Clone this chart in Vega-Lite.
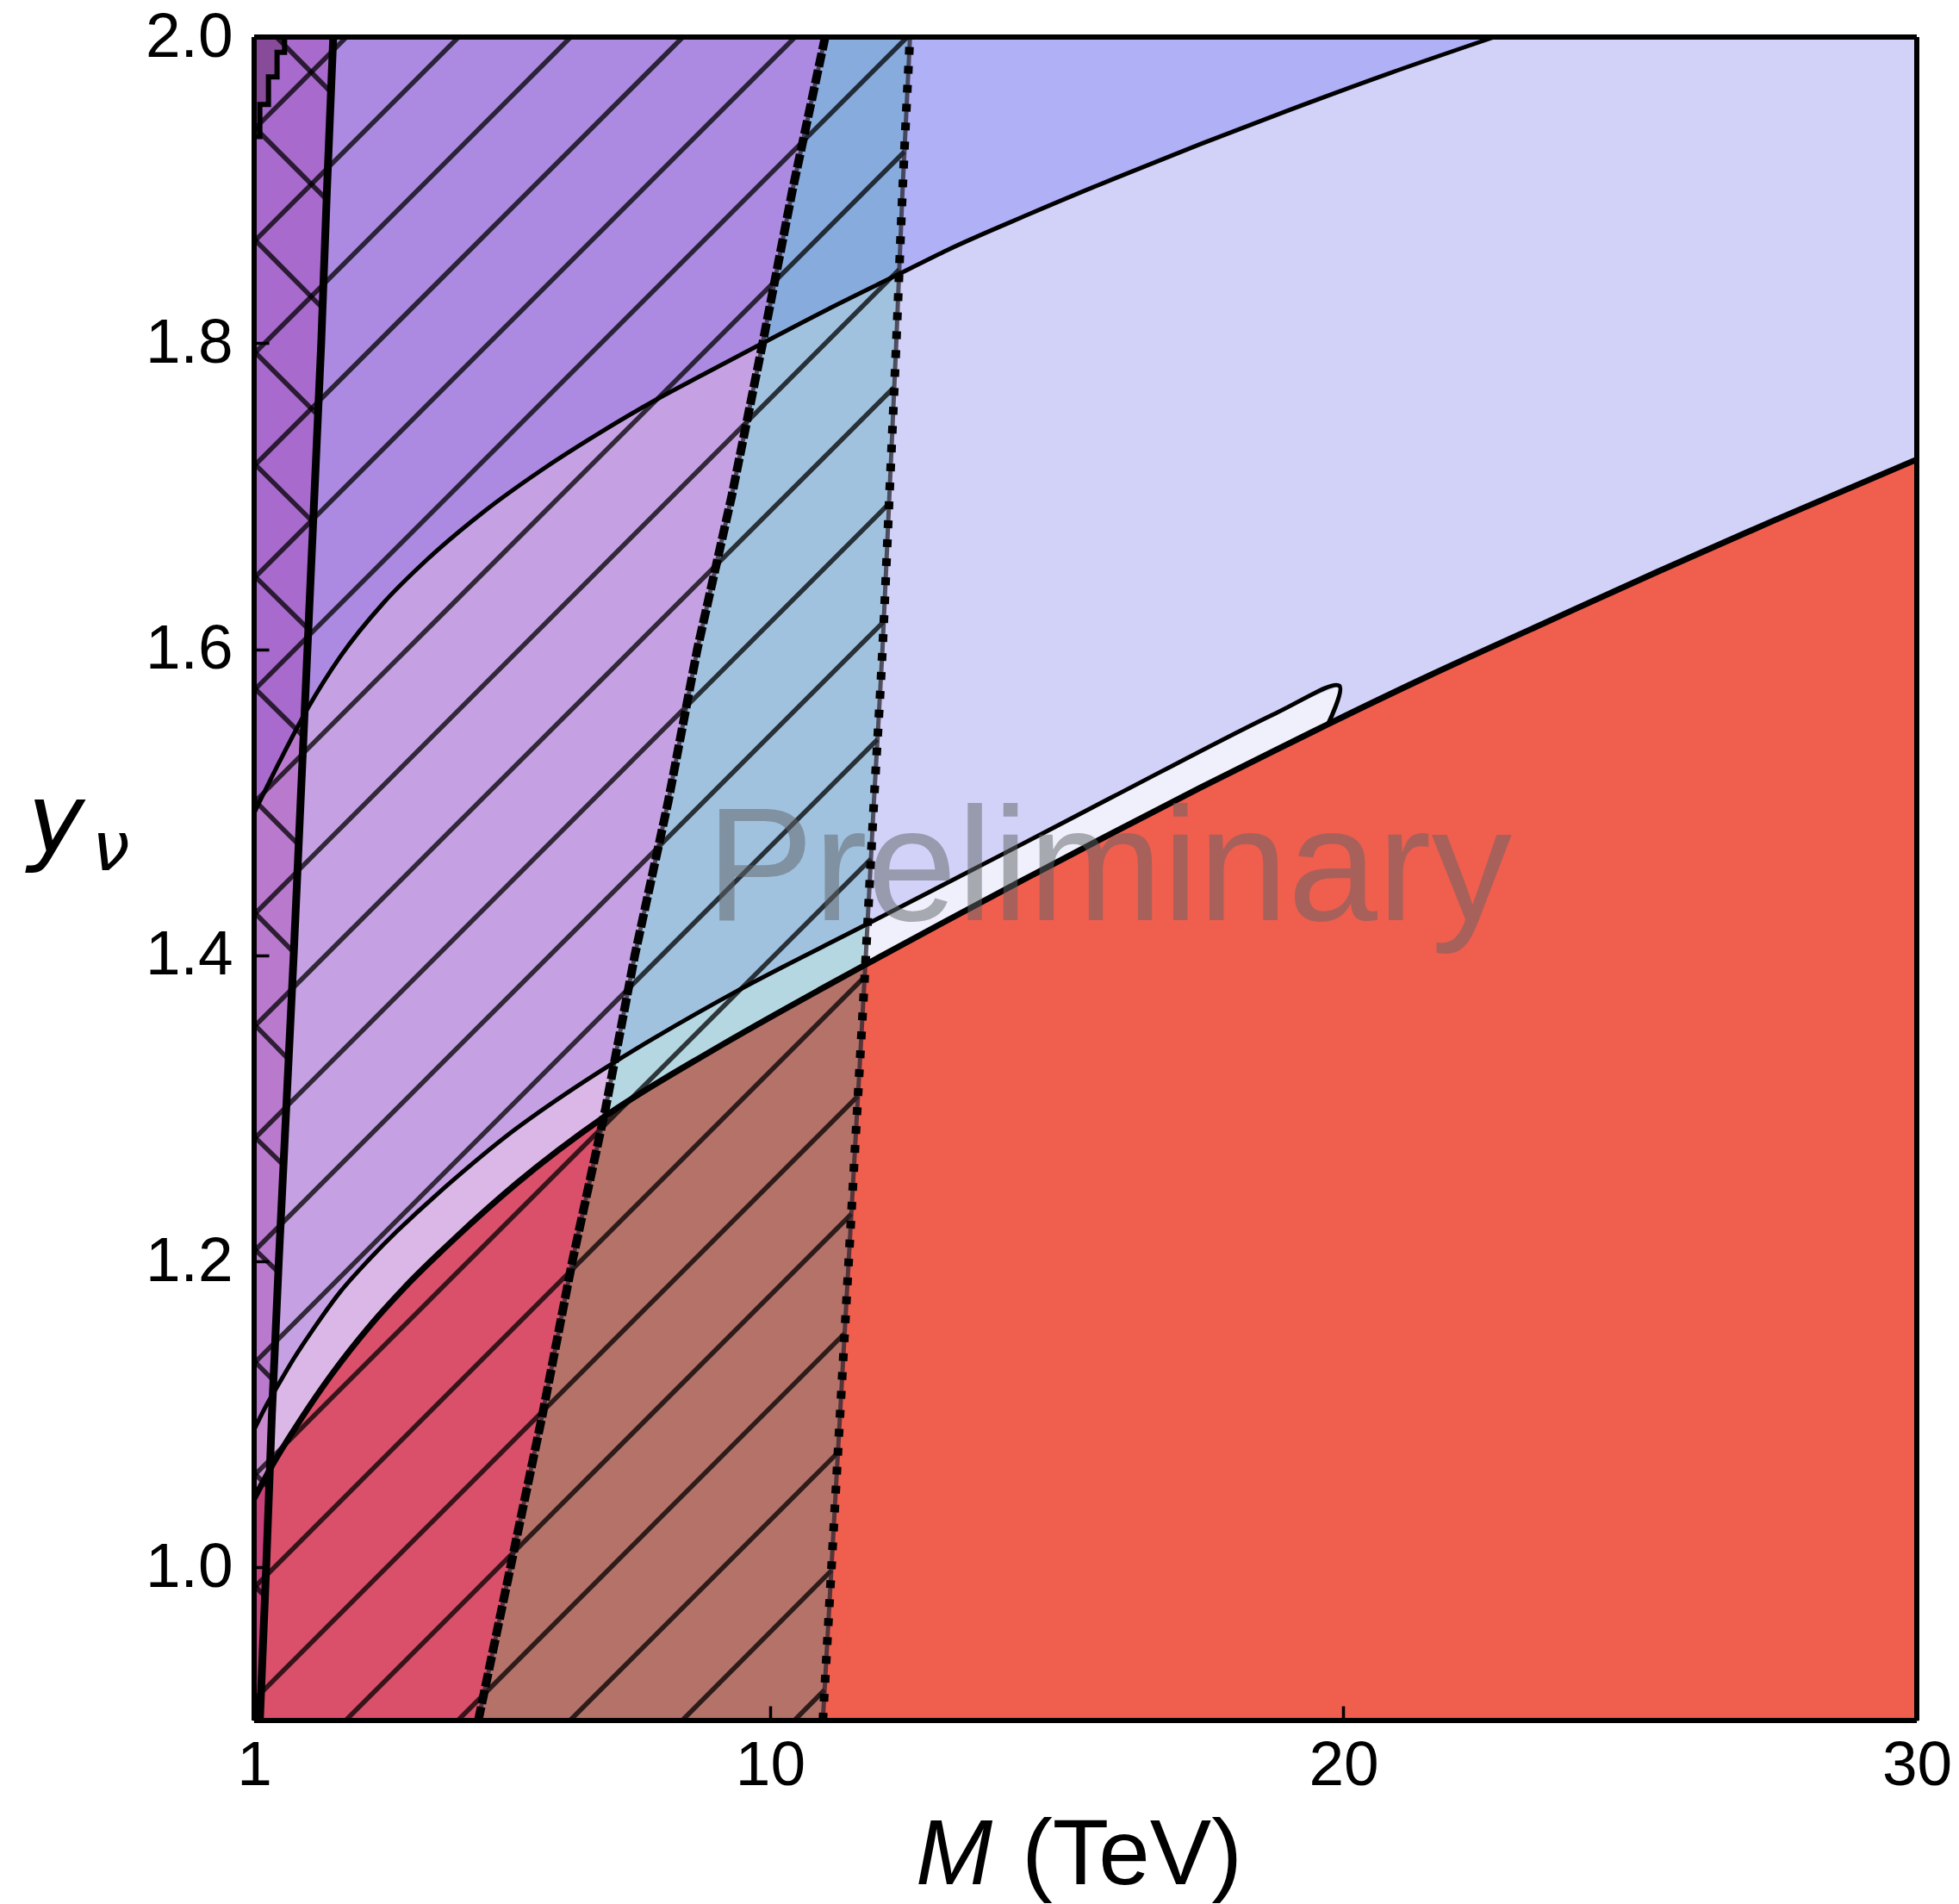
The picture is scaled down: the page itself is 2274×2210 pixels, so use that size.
{
  "$schema": "https://vega.github.io/schema/vega-lite/v6.json",
  "width": 1930,
  "height": 1954,
  "autosize": "none",
  "padding": {"left": 295, "top": 43, "right": 49, "bottom": 213},
  "background": "white",
  "config": {"view": {"fill": "#D2D1F8", "stroke": null}, "font": "Liberation Sans"},
  "datasets": {
    "c2": [
      {"x": 1.0, "y": 1.493}, {"x": 1.45, "y": 1.527}, {"x": 1.93, "y": 1.561}, {"x": 2.5, "y": 1.595},
      {"x": 3.25, "y": 1.63}, {"x": 4.0, "y": 1.658}, {"x": 5.01, "y": 1.69}, {"x": 6.01, "y": 1.717},
      {"x": 7.01, "y": 1.741}, {"x": 8.01, "y": 1.763}, {"x": 8.81, "y": 1.779}, {"x": 9.87, "y": 1.8},
      {"x": 11.0, "y": 1.822}, {"x": 12.24, "y": 1.845}, {"x": 13.1, "y": 1.861}, {"x": 14.5, "y": 1.884},
      {"x": 16.0, "y": 1.9075}, {"x": 17.5, "y": 1.93}, {"x": 19.0, "y": 1.9515}, {"x": 20.8, "y": 1.9763},
      {"x": 22.63, "y": 2.0}
    ],
    "c1": [
      {"x": 1.0, "y": 1.09}, {"x": 1.2, "y": 1.105}, {"x": 1.4, "y": 1.118}, {"x": 1.7, "y": 1.137},
      {"x": 2.0, "y": 1.154}, {"x": 2.5, "y": 1.18}, {"x": 3.0, "y": 1.201}, {"x": 3.5, "y": 1.22},
      {"x": 4.5, "y": 1.254}, {"x": 5.58, "y": 1.287}, {"x": 7.28, "y": 1.33}, {"x": 9.44, "y": 1.377},
      {"x": 11.62, "y": 1.419}, {"x": 14.0, "y": 1.465}, {"x": 16.0, "y": 1.504}, {"x": 18.81, "y": 1.558},
      {"x": 19.93, "y": 1.576}, {"x": 19.73, "y": 1.551}
    ],
    "sliver": [
      {"x": 1.0, "lo": 1.045, "hi": 1.09}, {"x": 1.2, "lo": 1.059, "hi": 1.105}, {"x": 1.4, "lo": 1.072, "hi": 1.118},
      {"x": 1.7, "lo": 1.09, "hi": 1.137}, {"x": 2.0, "lo": 1.107, "hi": 1.154}, {"x": 2.5, "lo": 1.133, "hi": 1.18},
      {"x": 3.0, "lo": 1.157, "hi": 1.201}, {"x": 3.5, "lo": 1.178, "hi": 1.22}, {"x": 4.5, "lo": 1.215, "hi": 1.254},
      {"x": 5.58, "lo": 1.251, "hi": 1.287}, {"x": 7.28, "lo": 1.299, "hi": 1.33}, {"x": 9.44, "lo": 1.347, "hi": 1.377},
      {"x": 11.62, "lo": 1.393, "hi": 1.419}, {"x": 14.0, "lo": 1.441, "hi": 1.465}, {"x": 16.0, "lo": 1.4805, "hi": 1.504},
      {"x": 18.81, "lo": 1.534, "hi": 1.558}, {"x": 19.73, "lo": 1.551, "hi": 1.573}, {"x": 19.93, "lo": 1.576, "hi": 1.576}
    ],
    "red": [
      {"x": 1.0, "y": 1.045}, {"x": 1.35, "y": 1.069}, {"x": 1.8, "y": 1.096}, {"x": 2.35, "y": 1.126},
      {"x": 3.0, "y": 1.157}, {"x": 3.6, "y": 1.182}, {"x": 4.5, "y": 1.215}, {"x": 5.58, "y": 1.251},
      {"x": 7.09, "y": 1.294}, {"x": 9.0, "y": 1.338}, {"x": 10.89, "y": 1.378}, {"x": 11.62, "y": 1.393},
      {"x": 13.0, "y": 1.421}, {"x": 14.5, "y": 1.451}, {"x": 16.0, "y": 1.4805}, {"x": 17.5, "y": 1.5094},
      {"x": 18.81, "y": 1.534}, {"x": 19.73, "y": 1.551}, {"x": 21.51, "y": 1.583}, {"x": 23.5, "y": 1.617},
      {"x": 25.5, "y": 1.651}, {"x": 27.5, "y": 1.684}, {"x": 30.0, "y": 1.724}
    ],
    "vl": [
      {"y": 0.9, "dash": 4.91, "dot": 10.92, "thick": 1.1},
      {"y": 1.0, "dash": 5.47, "dot": 11.07, "thick": 1.21},
      {"y": 1.1, "dash": 6.03, "dot": 11.22, "thick": 1.31},
      {"y": 1.2, "dash": 6.55, "dot": 11.37, "thick": 1.43},
      {"y": 1.3, "dash": 7.13, "dot": 11.52, "thick": 1.56},
      {"y": 1.4, "dash": 7.64, "dot": 11.67, "thick": 1.69},
      {"y": 1.5, "dash": 8.22, "dot": 11.81, "thick": 1.81},
      {"y": 1.6, "dash": 8.73, "dot": 11.96, "thick": 1.93},
      {"y": 1.7, "dash": 9.33, "dot": 12.08, "thick": 2.05},
      {"y": 1.8, "dash": 9.87, "dot": 12.2, "thick": 2.17},
      {"y": 1.9, "dash": 10.39, "dot": 12.31, "thick": 2.27},
      {"y": 2.0, "dash": 10.96, "dot": 12.44, "thick": 2.38}
    ],
    "corner": [
      {"x": 1.0, "y": 1.935}, {"x": 1.1, "y": 1.956}, {"x": 1.25, "y": 1.974},
      {"x": 1.4, "y": 1.99}, {"x": 1.53, "y": 1.99}, {"x": 1.531, "y": 2.0}
    ],
    "hatch": [
      {"xa": 1, "ya": 1.9397, "xb": 2.61, "yb": 2.0},
      {"xa": 1, "ya": 1.8664, "xb": 4.566, "yb": 2.0},
      {"xa": 1, "ya": 1.7931, "xb": 6.523, "yb": 2.0},
      {"xa": 1, "ya": 1.7198, "xb": 8.479, "yb": 2.0},
      {"xa": 1, "ya": 1.6465, "xb": 10.436, "yb": 2.0},
      {"xa": 1, "ya": 1.5732, "xb": 12.392, "yb": 2.0},
      {"xa": 1, "ya": 1.4999, "xb": 12.34, "yb": 1.925},
      {"xa": 1, "ya": 1.4266, "xb": 12.25, "yb": 1.848},
      {"xa": 1, "ya": 1.3533, "xb": 12.16, "yb": 1.771},
      {"xa": 1, "ya": 1.28, "xb": 12.07, "yb": 1.695},
      {"xa": 1, "ya": 1.2067, "xb": 11.98, "yb": 1.618},
      {"xa": 1, "ya": 1.1334, "xb": 11.87, "yb": 1.541},
      {"xa": 1, "ya": 1.0601, "xb": 11.76, "yb": 1.463},
      {"xa": 1, "ya": 0.9868, "xb": 11.65, "yb": 1.386},
      {"xa": 1, "ya": 0.9135, "xb": 11.53, "yb": 1.308},
      {"xa": 2.595, "ya": 0.9, "xb": 11.42, "yb": 1.231},
      {"xa": 4.552, "ya": 0.9, "xb": 11.3, "yb": 1.153},
      {"xa": 6.508, "ya": 0.9, "xb": 11.18, "yb": 1.075},
      {"xa": 8.465, "ya": 0.9, "xb": 11.07, "yb": 0.998},
      {"xa": 10.421, "ya": 0.9, "xb": 10.95, "yb": 0.92},
      {"xa": 1.39, "ya": 2.0, "xb": 2.34, "yb": 1.964},
      {"xa": 1, "ya": 1.9413, "xb": 2.26, "yb": 1.894},
      {"xa": 1, "ya": 1.868, "xb": 2.19, "yb": 1.823},
      {"xa": 1, "ya": 1.7947, "xb": 2.11, "yb": 1.753},
      {"xa": 1, "ya": 1.7214, "xb": 2.03, "yb": 1.683},
      {"xa": 1, "ya": 1.6481, "xb": 1.95, "yb": 1.613},
      {"xa": 1, "ya": 1.5748, "xb": 1.86, "yb": 1.543},
      {"xa": 1, "ya": 1.5015, "xb": 1.78, "yb": 1.472},
      {"xa": 1, "ya": 1.4282, "xb": 1.69, "yb": 1.402},
      {"xa": 1, "ya": 1.3549, "xb": 1.6, "yb": 1.332},
      {"xa": 1, "ya": 1.2816, "xb": 1.51, "yb": 1.263},
      {"xa": 1, "ya": 1.2083, "xb": 1.42, "yb": 1.193},
      {"xa": 1, "ya": 1.135, "xb": 1.34, "yb": 1.122},
      {"xa": 1, "ya": 1.0617, "xb": 1.26, "yb": 1.052},
      {"xa": 1, "ya": 0.9884, "xb": 1.19, "yb": 0.981},
      {"xa": 1, "ya": 0.9151, "xb": 1.11, "yb": 0.911}
    ]
  },
  "layer": [
    {
      "data": {"name": "c2"},
      "mark": {"type": "area", "color": "#AFB0F6", "interpolate": "monotone"},
      "encoding": {
        "x": {"field": "x", "type": "quantitative", "title": null, "scale": {"domain": [1, 30], "nice": false, "zero": false},
          "axis": {"values": [1, 10, 20, 30], "format": "d", "labelFlush": false, "labelOverlap": false, "labelBound": false,
            "domain": false, "grid": false, "ticks": true, "tickSize": -17, "tickWidth": 3.5, "tickColor": "black",
            "labelFontSize": 73, "labelFont": "Liberation Sans", "labelColor": "black", "labelPadding": 33, "title": null, "zindex": 1}},
        "y": {"field": "y", "type": "quantitative", "title": null, "stack": null, "scale": {"domain": [0.9, 2.0], "nice": false, "zero": false},
          "axis": {"values": [1.0, 1.2, 1.4, 1.6, 1.8, 2.0], "format": ".1f", "labelFlush": false, "labelOverlap": false, "labelBound": false,
            "domain": false, "grid": false, "ticks": true, "tickSize": -17, "tickWidth": 3.5, "tickColor": "black",
            "labelFontSize": 73, "labelFont": "Liberation Sans", "labelColor": "black", "labelPadding": 42, "title": null, "zindex": 1}},
        "y2": {"datum": 2.0}
      }
    },
    {
      "data": {"name": "sliver"},
      "mark": {"type": "area", "color": "#F0F0FC", "interpolate": "monotone"},
      "encoding": {
        "x": {"field": "x", "type": "quantitative", "title": null},
        "y": {"field": "lo", "type": "quantitative", "stack": null, "title": null},
        "y2": {"field": "hi"}
      }
    },
    {
      "data": {"name": "red"},
      "mark": {"type": "area", "color": "#F05E4E", "interpolate": "monotone"},
      "encoding": {
        "x": {"field": "x", "type": "quantitative", "title": null},
        "y": {"field": "y", "type": "quantitative", "stack": null, "title": null},
        "y2": {"datum": 0.9}
      }
    },
    {
      "data": {"name": "vl"},
      "mark": {"type": "area", "orient": "horizontal", "color": "#A42EB0", "fillOpacity": 0.29},
      "encoding": {
        "y": {"field": "y", "type": "quantitative", "title": null},
        "x": {"field": "dash", "type": "quantitative", "stack": null, "title": null},
        "x2": {"datum": 1}
      }
    },
    {
      "data": {"name": "vl"},
      "mark": {"type": "area", "orient": "horizontal", "color": "#33A1A8", "fillOpacity": 0.31},
      "encoding": {
        "y": {"field": "y", "type": "quantitative", "title": null},
        "x": {"field": "dash", "type": "quantitative", "stack": null, "title": null},
        "x2": {"field": "dot"}
      }
    },
    {
      "data": {"name": "vl"},
      "mark": {"type": "area", "orient": "horizontal", "color": "#9F229D", "fillOpacity": 0.3},
      "encoding": {
        "y": {"field": "y", "type": "quantitative", "title": null},
        "x": {"field": "thick", "type": "quantitative", "stack": null, "title": null},
        "x2": {"datum": 1}
      }
    },
    {
      "data": {"name": "corner"},
      "mark": {"type": "area", "color": "#7B3F85", "interpolate": "step-after", "line": {"color": "black", "strokeWidth": 6, "interpolate": "step-after"}},
      "encoding": {
        "x": {"field": "x", "type": "quantitative", "title": null},
        "y": {"field": "y", "type": "quantitative", "stack": null, "title": null},
        "y2": {"datum": 2.0}
      }
    },
    {
      "data": {"name": "hatch"},
      "mark": {"type": "rule", "color": "black", "opacity": 0.75, "strokeWidth": 5.5},
      "encoding": {
        "x": {"field": "xa", "type": "quantitative", "title": null},
        "y": {"field": "ya", "type": "quantitative", "title": null},
        "x2": {"field": "xb"},
        "y2": {"field": "yb"}
      }
    },
    {
      "data": {"name": "vl"},
      "mark": {"type": "line", "color": "#2b2430", "opacity": 0.75, "strokeWidth": 5, "interpolate": "monotone"},
      "encoding": {
        "x": {"field": "dot", "type": "quantitative", "title": null},
        "y": {"field": "y", "type": "quantitative", "title": null},
        "order": {"field": "y"}
      }
    },
    {
      "data": {"name": "vl"},
      "mark": {"type": "line", "color": "#2b2430", "opacity": 0.75, "strokeWidth": 5},
      "encoding": {
        "x": {"field": "dash", "type": "quantitative", "title": null},
        "y": {"field": "y", "type": "quantitative", "title": null},
        "order": {"field": "y"}
      }
    },
    {
      "data": {"name": "c2"},
      "mark": {"type": "line", "color": "black", "strokeWidth": 5, "interpolate": "monotone"},
      "encoding": {
        "x": {"field": "x", "type": "quantitative", "title": null},
        "y": {"field": "y", "type": "quantitative", "title": null}
      }
    },
    {
      "data": {"name": "c1"},
      "mark": {"type": "line", "color": "black", "strokeWidth": 5, "interpolate": "catmull-rom"},
      "encoding": {
        "x": {"field": "x", "type": "quantitative", "title": null},
        "y": {"field": "y", "type": "quantitative", "title": null},
        "order": {"value": null}
      }
    },
    {
      "data": {"name": "red"},
      "mark": {"type": "line", "color": "black", "strokeWidth": 7, "interpolate": "monotone"},
      "encoding": {
        "x": {"field": "x", "type": "quantitative", "title": null},
        "y": {"field": "y", "type": "quantitative", "title": null}
      }
    },
    {
      "data": {"name": "vl"},
      "mark": {"type": "line", "color": "black", "strokeWidth": 9},
      "encoding": {
        "x": {"field": "thick", "type": "quantitative", "title": null},
        "y": {"field": "y", "type": "quantitative", "title": null},
        "order": {"field": "y"}
      }
    },
    {
      "data": {"name": "vl"},
      "mark": {"type": "line", "color": "black", "strokeWidth": 10, "strokeDash": [16, 4]},
      "encoding": {
        "x": {"field": "dash", "type": "quantitative", "title": null},
        "y": {"field": "y", "type": "quantitative", "title": null},
        "order": {"field": "y"}
      }
    },
    {
      "data": {"name": "vl"},
      "mark": {"type": "line", "color": "black", "strokeWidth": 10, "strokeDash": [9, 13], "interpolate": "monotone"},
      "encoding": {
        "x": {"field": "dot", "type": "quantitative", "title": null},
        "y": {"field": "y", "type": "quantitative", "title": null},
        "order": {"field": "y"}
      }
    },
    {
      "data": {"values": [{"t": "Preliminary"}]},
      "mark": {"type": "text", "font": "Liberation Sans", "fontSize": 187, "color": "#606466", "opacity": 0.5, "align": "center", "baseline": "alphabetic"},
      "encoding": {
        "x": {"datum": 15.91, "type": "quantitative", "title": null},
        "y": {"datum": 1.423, "type": "quantitative", "title": null},
        "text": {"field": "t"}
      }
    },
    {
      "data": {"values": [{"f": 1}]},
      "mark": {"type": "rule", "color": "black", "strokeWidth": 6},
      "encoding": {"x": {"datum": 1, "type": "quantitative", "title": null}}
    },
    {
      "data": {"values": [{"f": 1}]},
      "mark": {"type": "rule", "color": "black", "strokeWidth": 6},
      "encoding": {"x": {"datum": 30, "type": "quantitative", "title": null}}
    },
    {
      "data": {"values": [{"f": 1}]},
      "mark": {"type": "rule", "color": "black", "strokeWidth": 6},
      "encoding": {"y": {"datum": 0.9, "type": "quantitative", "title": null}}
    },
    {
      "data": {"values": [{"f": 1}]},
      "mark": {"type": "rule", "color": "black", "strokeWidth": 6},
      "encoding": {"y": {"datum": 2.0, "type": "quantitative", "title": null}}
    },
    {
      "data": {"values": [{"t": "M"}]},
      "mark": {"type": "text", "font": "Liberation Sans", "fontSize": 107, "fontStyle": "italic", "color": "black", "align": "left", "baseline": "alphabetic"},
      "encoding": {
        "x": {"datum": 12.54, "type": "quantitative", "title": null},
        "y": {"datum": 0.793, "type": "quantitative", "title": null},
        "text": {"field": "t"}
      }
    },
    {
      "data": {"values": [{"t": "(TeV)"}]},
      "mark": {"type": "text", "font": "Liberation Sans", "fontSize": 107, "color": "black", "align": "left", "baseline": "alphabetic"},
      "encoding": {
        "x": {"datum": 14.39, "type": "quantitative", "title": null},
        "y": {"datum": 0.793, "type": "quantitative", "title": null},
        "text": {"field": "t"}
      }
    },
    {
      "data": {"values": [{"t": "y"}]},
      "mark": {"type": "text", "font": "DejaVu Sans", "fontSize": 112, "fontStyle": "italic", "color": "black", "align": "left", "baseline": "alphabetic"},
      "encoding": {
        "x": {"datum": -2.95, "type": "quantitative", "title": null},
        "y": {"datum": 1.467, "type": "quantitative", "title": null},
        "text": {"field": "t"}
      }
    },
    {
      "data": {"values": [{"t": "ν"}]},
      "mark": {"type": "text", "font": "DejaVu Sans", "fontSize": 78, "fontStyle": "italic", "color": "black", "align": "left", "baseline": "alphabetic"},
      "encoding": {
        "x": {"datum": -1.825, "type": "quantitative", "title": null},
        "y": {"datum": 1.4556, "type": "quantitative", "title": null},
        "text": {"field": "t"}
      }
    }
  ]
}
